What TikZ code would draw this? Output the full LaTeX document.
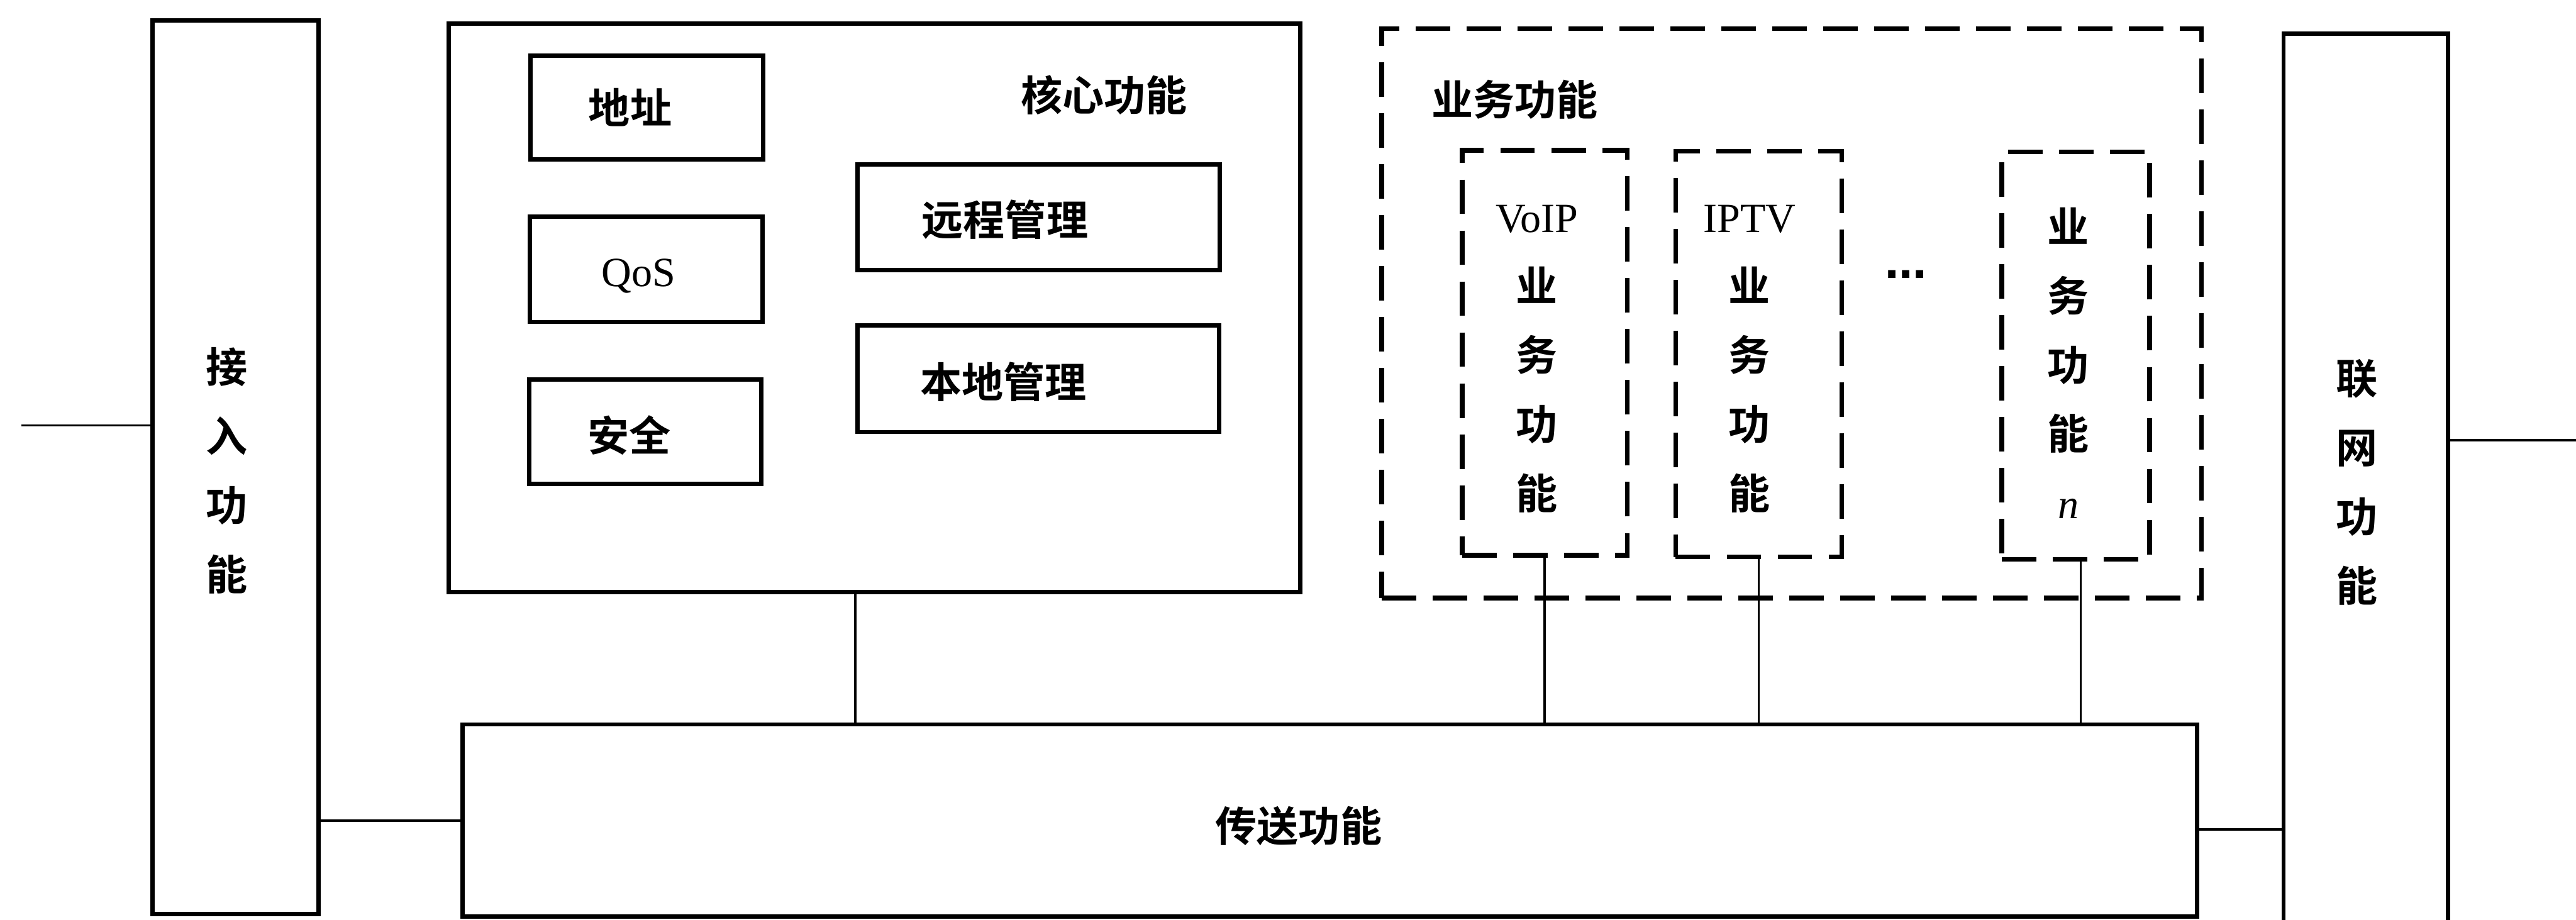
\documentclass[tikz,border=0pt]{standalone}
\usepackage{fontspec}
\setmainfont{Liberation Serif}
\newfontfamily\cjk{Noto Sans CJK SC}[BoldFont={Noto Sans CJK SC Bold}]
\newfontfamily\latf{Liberation Serif}
\newfontfamily\dotsf{DejaVu Sans}
\usetikzlibrary{fit}
\begin{document}
\begin{tikzpicture}[x=0.01cm,y=-0.01cm,
  box/.style={draw, line width=0.75pt, inner sep=0pt},
  dbox/.style={draw, line width=0.8pt, inner sep=0pt, dash pattern=on 0.21cm off 0.1cm},
  conn/.style={line width=0.4pt},
  zh/.style={inner sep=0pt, font=\fontsize{7.2}{11.95}\selectfont\cjk\bfseries},
  en/.style={inner sep=0pt, font=\fontsize{7.2}{11.95}\selectfont\latf},
  vt/.style={zh, align=center}
]
\useasboundingbox (0,0) rectangle (1568,560);

% solid boxes
\node[box, fit={(93,12.5) (194,556.5)}] (acc) {};
\node[box, fit={(273,14.5) (791.5,360.5)}] (core) {};
\node[box, fit={(323,34) (464.5,97)}] (addr) {};
\node[box, fit={(322.5,132) (464,196)}] (qos) {};
\node[box, fit={(322,231) (463.5,294.5)}] (sec) {};
\node[box, fit={(522,100) (742.5,164.5)}] (rem) {};
\node[box, fit={(522,198) (742,263)}] (loc) {};
\node[box, fit={(281.5,441) (1337.5,558)}] (tr) {};
\node[box, fit={(1390,20.5) (1490,566)}] (net) {};

% dashed boxes
\node[dbox, fit={(841,17.5) (1340,364)}] (svc) {};
\node[dbox, fit={(890,91.5) (990.5,338)}] (voip) {};
\node[dbox, fit={(1020,92) (1121,339)}] (iptv) {};
\node[dbox, fit={(1218.5,92.5) (1308.5,340.5)}] (svcn) {};

% labels
\node[vt] (accT) at (138,286.5) {接\\入\\功\\能};
\node[zh] (coreT) at (672,58) {核心功能};
\node[zh] (addrT) at (383.6,65.5) {地址};
\node[en] (qosT) at (388.8,168) {QoS};
\node[zh] (secT) at (383,265) {安全};
\node[zh] (remT) at (611.7,133.5) {远程管理};
\node[zh] (locT) at (610.7,232.5) {本地管理};
\node[zh] (svcT) at (922,60.6) {业务功能};
\node[vt] (voipT) at (935.5,218.5) {{\latf\mdseries VoIP}\\业\\务\\功\\能};
\node[vt] (iptvT) at (1065,218.5) {{\latf\mdseries IPTV}\\业\\务\\功\\能};
\node[inner sep=0pt, font=\fontsize{7.2}{11.95}\selectfont\dotsf\bfseries] (dotsT) at (1160,167) {…};
\node[vt] (svcnT) at (1259,221) {业\\务\\功\\能\\{\latf\mdseries\itshape n}};
\node[zh] (trT) at (790.5,503) {传送功能};
\node[vt] (netT) at (1434.7,293.5) {联\\网\\功\\能};

% connectors
\coordinate (inL) at (13,259);
\coordinate (outR) at (1568,268);
\draw[conn] (inL) -- (inL -| acc.west);
\draw[conn] (acc.east |- tr.west) -- (tr.west);
\draw[conn] ([yshift=-0.055cm]tr.east) -- ([yshift=-0.055cm]tr.east -| net.west);
\draw[conn] (net.east |- outR) -- (outR);
\draw[conn] ([xshift=-0.1155cm]core.south) -- ([xshift=-0.1155cm]core.south |- tr.north);
\draw[conn] (voip.south) -- (voip.south |- tr.north);
\draw[conn] (iptv.south) -- (iptv.south |- tr.north);
\draw[conn] ([xshift=0.03cm]svcn.south) -- ([xshift=0.03cm]svcn.south |- tr.north);
\end{tikzpicture}
\end{document}
